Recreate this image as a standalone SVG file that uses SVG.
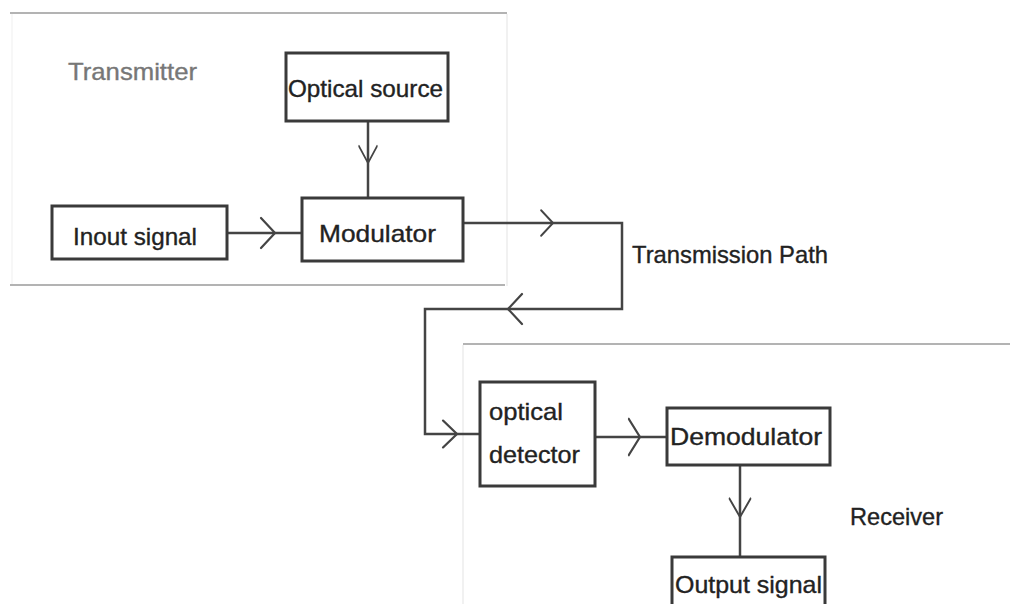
<svg xmlns="http://www.w3.org/2000/svg" xmlns:xlink="http://www.w3.org/1999/xlink" width="1010" height="604" viewBox="0 0 1010 604">
<style>
.panel{stroke:#9a9a9a;stroke-width:1.5;fill:none}
.faint{stroke:#ececec;stroke-width:1.5;fill:none}
.box{fill:#fff;stroke:#3a3a3a;stroke-width:3}
.wire{fill:none;stroke:#444;stroke-width:2.5}
.chev{fill:none;stroke:#444;stroke-width:2.2;stroke-linecap:round;stroke-linejoin:round}
.t{font-family:"Liberation Sans",Arial,sans-serif;font-size:24px;fill:#222;stroke:#222;stroke-width:0.35}
.lt{fill:#777;stroke:#777}
</style>
<defs>
<path id="chev" d="M-14 -15 L0 0 L-14 15"/>
</defs>
<rect width="1010" height="604" fill="#fff"/>
<g id="panels">
<line class="panel" x1="10" y1="13" x2="507" y2="13"/>
<line class="panel" x1="10" y1="285" x2="505" y2="285"/>
<line class="faint" x1="507" y1="14" x2="507" y2="286"/>
<line class="faint" x1="12" y1="14" x2="12" y2="284" style="stroke:#f4f4f4"/>
<line class="panel" x1="463" y1="344" x2="1010" y2="344"/>
<line class="faint" x1="463" y1="345" x2="463" y2="604"/>
</g>
<g id="connectors">
<path class="wire" d="M227 233 H302"/>
<use href="#chev" class="chev" transform="translate(275 233)"/>
<path class="wire" d="M368 121 V199"/>
<use href="#chev" class="chev" transform="translate(368 163) rotate(90) scale(1.2 0.6)"/>
<path class="wire" d="M463 223 H622 V309 H425 V434 H480"/>
<use href="#chev" class="chev" transform="translate(553 223) scale(0.85 0.85)"/>
<use href="#chev" class="chev" transform="translate(508 309) rotate(180)"/>
<use href="#chev" class="chev" transform="translate(457 434) scale(1 0.9)"/>
<path class="wire" d="M595 437 H667"/>
<use href="#chev" class="chev" transform="translate(640 437) scale(0.8 1.2)"/>
<path class="wire" d="M740 465 V557"/>
<use href="#chev" class="chev" transform="translate(740 517) rotate(90) scale(1.3 0.7)"/>
</g>
<g id="label-transmitter"><text class="t lt" x="68" y="80" textLength="129" lengthAdjust="spacingAndGlyphs">Transmitter</text></g>
<g id="node-optical-source">
<rect class="box" x="286" y="53" width="162" height="68"/>
<text class="t" x="288" y="97" textLength="155" lengthAdjust="spacingAndGlyphs">Optical source</text>
</g>
<g id="node-input-signal">
<rect class="box" x="52" y="206" width="175" height="53"/>
<text class="t" x="73" y="245" textLength="124" lengthAdjust="spacingAndGlyphs">Inout signal</text>
</g>
<g id="node-modulator">
<rect class="box" x="302" y="198" width="161" height="63"/>
<text class="t" x="319" y="242" textLength="117" lengthAdjust="spacingAndGlyphs">Modulator</text>
</g>
<g id="label-transmission-path"><text class="t" x="632" y="263" textLength="196" lengthAdjust="spacingAndGlyphs">Transmission Path</text></g>
<g id="node-optical-detector">
<rect class="box" x="480" y="382" width="115" height="104"/>
<text class="t" x="489" y="420" textLength="74" lengthAdjust="spacingAndGlyphs">optical</text>
<text class="t" x="489" y="463" textLength="91" lengthAdjust="spacingAndGlyphs">detector</text>
</g>
<g id="node-demodulator">
<rect class="box" x="667" y="408" width="163" height="57"/>
<text class="t" x="670" y="445" textLength="152" lengthAdjust="spacingAndGlyphs">Demodulator</text>
</g>
<g id="label-receiver"><text class="t" x="850" y="525" textLength="93" lengthAdjust="spacingAndGlyphs">Receiver</text></g>
<g id="node-output-signal">
<rect class="box" x="672" y="557" width="153" height="60"/>
<text class="t" x="675" y="593" textLength="147" lengthAdjust="spacingAndGlyphs">Output signal</text>
</g>
</svg>
